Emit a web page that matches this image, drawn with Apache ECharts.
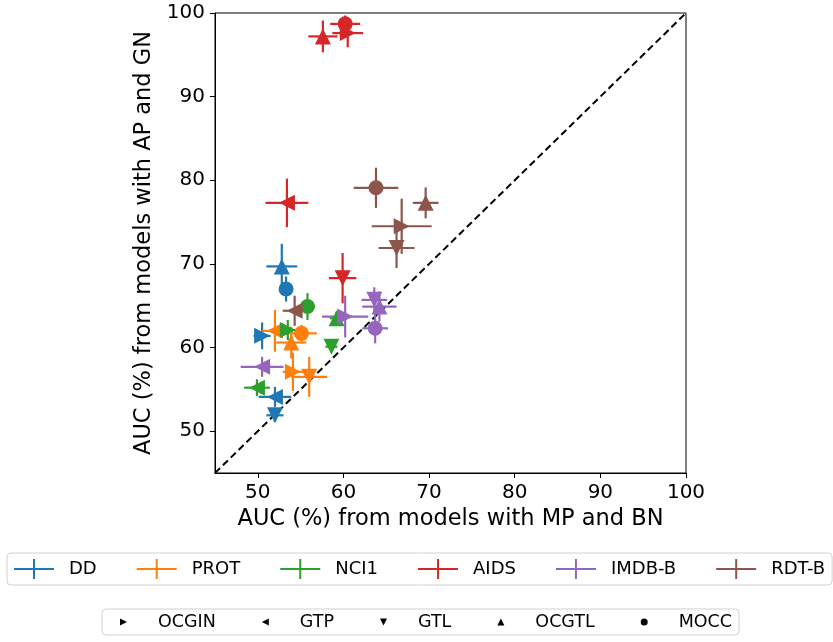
<!DOCTYPE html>
<html>
<head>
<meta charset="utf-8">
<script src="https://cdn.jsdelivr.net/npm/echarts@6/dist/echarts.min.js"></script>
<style>
  html, body { margin: 0; padding: 0; background: #fff; }
  #main { width: 833px; height: 642px; }
</style>
</head>
<body>
<div id="main"></div>
<script>
// 模型 (marker) 和数据集 (color)
const models = ['OCGIN', 'GTP', 'GTL', 'OCGTL', 'MOCC'];
const datasets = ['DD', 'PROT', 'NCI1', 'AIDS', 'IMDB-B', 'RDT-B'];
const colors = ['#1f77b4', '#ff7f0e', '#2ca02c', '#d62728', '#9467bd', '#8c564b'];

// each row: [x (MP+BN), y (AP+GN), x err, y err], rows follow models order
const DD = [[50.5, 61.4, 1.0, 1.6], [52.0, 54.1, 1.9, 1.2], [52.0, 51.9, 1.0, 0.8], [52.8, 69.7, 1.8, 2.7], [53.3, 67.0, 0.5, 1.5]];
const PROT = [[54.1, 57.1, 1.2, 2.3], [52.0, 62.0, 1.5, 2.5], [56.0, 56.5, 2.1, 2.4], [53.9, 60.6, 1.75, 1.9], [55.1, 61.7, 1.8, 1.0]];
const NCI1 = [[53.5, 62.1, 1.0, 1.2], [49.9, 55.2, 1.5, 1.0], [58.6, 60.1, 0.7, 0.6], [59.2, 63.5, 0.8, 0.8], [55.8, 64.9, 0.8, 1.6]];
const AIDS = [[60.5, 97.6, 1.8, 1.7], [53.4, 77.3, 2.5, 2.9], [59.9, 68.3, 1.6, 3.0], [57.6, 97.2, 1.7, 1.9], [60.2, 98.7, 1.75, 1.0]];
const IMDB_B = [[60.2, 63.7, 2.7, 2.5], [50.5, 57.7, 2.5, 1.2], [63.6, 65.7, 1.5, 1.5], [64.2, 64.9, 2.0, 1.8], [63.7, 62.3, 1.5, 1.8]];
const RDT_B = [[66.8, 74.5, 3.5, 3.3], [54.3, 64.4, 1.4, 1.8], [66.2, 71.9, 2.1, 2.4], [69.6, 77.3, 1.5, 1.85], [63.8, 79.1, 2.6, 2.4]];
const allData = [DD, PROT, NCI1, AIDS, IMDB_B, RDT_B];

const xTicks = [50, 60, 70, 80, 90, 100];
const yTicks = [50, 60, 70, 80, 90, 100];
const diagonal = [[45, 45], [100, 100]];

const symbolOf = {
  OCGIN: 'path://M0,0L10,5L0,10Z',
  GTP: 'path://M10,0L0,5L10,10Z',
  GTL: 'path://M0,0L10,0L5,10Z',
  OCGTL: 'triangle',
  MOCC: 'circle'
};
const crossIcon = 'path://M0,9H40V11H0Z M19,0H21V20H19Z';
const font = 'DejaVu Sans';

// 误差线
function renderErrorBars(params, api) {
  const x = api.value(0), y = api.value(1), xe = api.value(2), ye = api.value(3);
  const l = api.coord([x - xe, y]);
  const r = api.coord([x + xe, y]);
  const t = api.coord([x, y + ye]);
  const b = api.coord([x, y - ye]);
  const style = { stroke: api.visual('color'), lineWidth: 2.2 };
  return {
    type: 'group',
    children: [
      { type: 'line', shape: { x1: l[0], y1: l[1], x2: r[0], y2: r[1] }, style: style },
      { type: 'line', shape: { x1: b[0], y1: b[1], x2: t[0], y2: t[1] }, style: style }
    ]
  };
}

let series = [];
datasets.forEach(function(name, i) {
  series.push({
    name: name,
    type: 'custom',
    renderItem: renderErrorBars,
    encode: { x: 0, y: 1 },
    itemStyle: { color: colors[i] },
    data: allData[i],
    z: 2,
    silent: true
  });
});
datasets.forEach(function(name, i) {
  series.push({
    name: name,
    type: 'scatter',
    itemStyle: { color: colors[i], opacity: 1 },
    data: allData[i].map(function(row, j) {
      return {
        value: [row[0], row[1]],
        symbol: symbolOf[models[j]],
        symbolSize: models[j] === 'MOCC' ? 15 : 16
      };
    }),
    z: 3,
    silent: true
  });
});
// 仅用于第二个图例
models.forEach(function(m) {
  series.push({ name: m, type: 'scatter', data: [], itemStyle: { color: '#000', opacity: 1 } });
});
series.push({
  type: 'line',
  data: diagonal,
  symbol: 'none',
  lineStyle: { color: '#000', width: 2, type: [7, 4] },
  z: 1,
  silent: true
});

let chart = echarts.init(document.getElementById('main'));
let option = {
  animation: false,
  textStyle: { fontFamily: font },
  grid: {
    left: 215, top: 13, right: 147, bottom: 169,
    show: true, borderColor: '#000', borderWidth: 1, backgroundColor: 'transparent'
  },
  xAxis: {
    type: 'value', min: 45, max: 100,
    name: 'AUC (%) from models with MP and BN',
    nameLocation: 'middle', nameGap: 33,
    nameTextStyle: { fontSize: 22.5, color: '#000', fontFamily: font },
    axisLine: { show: true, onZero: false, lineStyle: { color: '#000', width: 1 } },
    axisTick: { show: true, length: 5, customValues: xTicks, lineStyle: { color: '#000' } },
    axisLabel: { customValues: xTicks, fontSize: 20, color: '#000', margin: 10, fontFamily: font },
    splitLine: { show: false }
  },
  yAxis: {
    type: 'value', min: 45, max: 100,
    name: 'AUC (%) from models with AP and GN',
    nameLocation: 'middle', nameGap: 56,
    nameTextStyle: { fontSize: 22.5, color: '#000', fontFamily: font },
    axisLine: { show: true, onZero: false, lineStyle: { color: '#000', width: 1 } },
    axisTick: { show: true, length: 5, customValues: yTicks, lineStyle: { color: '#000' } },
    axisLabel: { customValues: yTicks, fontSize: 20, color: '#000', margin: 10, fontFamily: font },
    splitLine: { show: false }
  },
  legend: [
    {
      data: datasets.map(function(d) { return { name: d, icon: crossIcon }; }),
      left: 7, top: 553, width: 1200,
      itemWidth: 40, itemHeight: 20, itemGap: 40,
      padding: [6, 7, 6, 7],
      borderColor: '#d0d0d0', borderWidth: 1, borderRadius: 4,
      selectedMode: false,
      textStyle: { fontSize: 18, color: '#000', fontFamily: font, padding: [0, 0, 0, 10] }
    },
    {
      data: models.map(function(m) { return { name: m, icon: symbolOf[m] }; }),
      left: 102, top: 609, width: 1200,
      itemWidth: 7, itemHeight: 7, itemGap: 46,
      padding: [4, 7, 4, 18],
      borderColor: '#d0d0d0', borderWidth: 1, borderRadius: 4,
      selectedMode: false,
      textStyle: { fontSize: 17.5, color: '#000', fontFamily: font, padding: [0, 0, 0, 26] }
    }
  ],
  series: series
};
option && chart.setOption(option);
</script>
</body>
</html>
